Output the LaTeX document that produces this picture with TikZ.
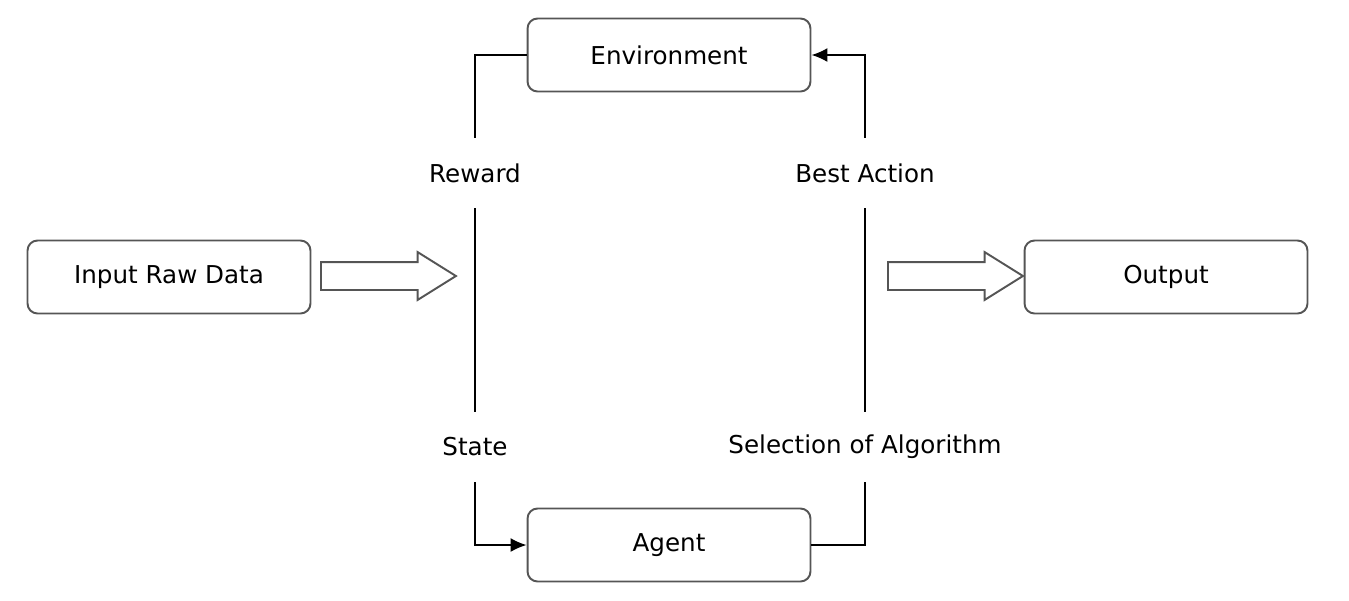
\documentclass[tikz,border=0pt]{standalone}
\usepackage{fontspec}
\setmainfont{DejaVu Sans}
\usetikzlibrary{arrows.meta,shapes.arrows}
\definecolor{boxgray}{RGB}{85,85,85}

\tikzset{
  block/.style={draw=boxgray, line width=1.1pt, rounded corners=0.2cm,
    minimum width=5.66cm, minimum height=1.46cm, fill=white},
  tag/.style={minimum height=1.4cm, inner xsep=2pt},
  fat/.style={single arrow, draw=boxgray, line width=1.1pt, fill=white,
    inner xsep=0pt, inner ysep=0.26cm, single arrow head extend=0.2cm,
    single arrow tip angle=64, minimum height=2.7cm, anchor=tail},
  link/.style={line width=1pt},
  tip/.style={-{Latex[length=0.32cm,width=0.28cm]}}
}

\begin{document}
\begin{tikzpicture}[x=0.02cm, y=-0.02cm, font=\fontsize{14}{17}\selectfont]
\useasboundingbox (0,0) rectangle (1349,600);

\node[block] (env)    at (669,55)  {Environment};
\node[block] (agent)  at (669,545) {Agent};
\node[block] (input)  at (169,277) {Input Raw Data};
\node[block] (output) at (1166,277) {Output};

\node[tag] (reward) at (475,173) {Reward};
\node[tag] (state)  at (475,447) {State};
\node[tag] (best)   at (865,173) {Best Action};
\node[tag] (select) at (865,447) {Selection of Algorithm};

% left loop
\draw[link] (env.west) -| (reward.north);
\draw[link] (reward.south) -- (state.north);
\draw[link,tip] (state.south) |- (agent.west);

% right loop
\draw[link] (agent.east) -| (select.south);
\draw[link] (select.north) -- (best.south);
\draw[link,tip] (best.north) |- (env.east);

\node[fat] (inarrow)  at (320,276) {};
\node[fat] (outarrow) at (887,276) {};
\end{tikzpicture}
\end{document}
